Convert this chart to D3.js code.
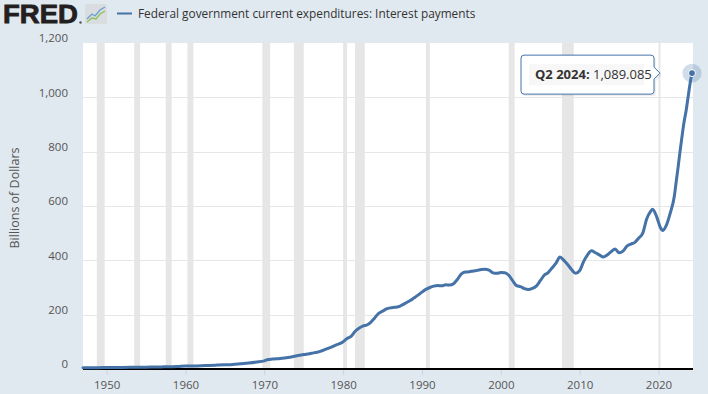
<!DOCTYPE html>
<html>
<head>
<meta charset="utf-8">
<script src="https://cdn.jsdelivr.net/npm/d3@7"></script>
<style>
  html, body { margin: 0; padding: 0; background: #e1e9f0; }
  svg { display: block; font-family: "Open Sans", "Noto Sans", sans-serif; }
</style>
</head>
<body>
<svg id="chart" width="708" height="394"></svg>
<script>
// ---- Data ----
const seriesTitle = "Federal government current expenditures: Interest payments";
const yAxisTitle = "Billions of Dollars";
const quarters = [
  "1947-Q1","1948-Q1","1949-Q1","1950-Q1","1951-Q1","1952-Q1","1953-Q1","1954-Q1","1955-Q1","1956-Q1",
  "1957-Q1","1958-Q1","1959-Q1","1960-Q1","1961-Q1","1962-Q1","1963-Q1","1964-Q1","1965-Q1","1966-Q1",
  "1967-Q1","1968-Q1","1969-Q1","1970-Q1","1970-Q3","1971-Q1","1972-Q1","1973-Q1","1974-Q1","1975-Q1",
  "1976-Q1","1977-Q1","1978-Q1","1979-Q1","1980-Q1","1980-Q3","1981-Q1","1981-Q3","1982-Q1","1982-Q3",
  "1983-Q1","1983-Q3","1984-Q1","1984-Q3","1985-Q1","1985-Q3","1986-Q1","1986-Q3","1987-Q1","1987-Q3",
  "1988-Q1","1988-Q3","1989-Q1","1989-Q3","1990-Q1","1990-Q3","1991-Q1","1991-Q3","1992-Q1","1992-Q3",
  "1993-Q1","1993-Q3","1994-Q1","1994-Q3","1995-Q1","1995-Q3","1996-Q1","1996-Q3","1997-Q1","1997-Q3",
  "1998-Q1","1998-Q3","1999-Q1","1999-Q3","2000-Q1","2000-Q3","2001-Q1","2001-Q3","2002-Q1","2002-Q3",
  "2003-Q1","2003-Q3","2004-Q1","2004-Q3","2005-Q1","2005-Q3","2006-Q1","2006-Q3","2007-Q1","2007-Q3",
  "2008-Q1","2008-Q3","2009-Q1","2009-Q3","2010-Q1","2010-Q3","2011-Q1","2011-Q3","2012-Q1","2012-Q3",
  "2013-Q1","2013-Q3","2014-Q1","2014-Q3","2015-Q1","2015-Q3","2016-Q1","2016-Q3","2017-Q1","2017-Q3",
  "2018-Q1","2018-Q3","2019-Q1","2019-Q2","2019-Q4","2020-Q2","2020-Q3","2021-Q1","2021-Q3","2022-Q1",
  "2022-Q2","2022-Q3","2022-Q4","2023-Q1","2023-Q2","2023-Q3","2023-Q4","2024-Q1","2024-Q2"
];
const values = [
  4.5, 4.8, 5.0, 5.3, 5.4, 5.7, 6.2, 6.4, 6.5, 7.2,
  7.8, 8.3, 9.0, 11.0, 11.2, 12.0, 13.2, 14.3, 15.5, 17.0,
  19.5, 22.0, 25.5, 30.0, 35.0, 36.5, 38.5, 42.0, 48.0, 53.0,
  58.0, 64.0, 75.0, 87.0, 100.0, 112.0, 120.0, 138.0, 150.0, 158.0,
  162.0, 172.0, 188.0, 205.0, 213.0, 221.0, 225.0, 227.0, 229.0, 236.0,
  244.0, 252.0, 262.0, 272.0, 283.0, 293.0, 300.0, 305.0, 307.0, 306.0,
  310.0, 309.0, 314.0, 330.0, 350.0, 357.0, 358.0, 361.0, 363.0, 366.0,
  367.0, 364.0, 354.0, 352.0, 355.0, 354.0, 345.0, 325.0, 307.0, 303.0,
  296.0, 293.0, 297.0, 305.0, 325.0, 345.0, 355.0, 372.0, 390.0, 412.0,
  400.0, 384.0, 365.0, 352.0, 362.0, 395.0, 420.0, 435.0, 428.0, 420.0,
  412.0, 420.0, 432.0, 442.0, 428.0, 434.0, 452.0, 460.0, 466.0, 482.0,
  500.0, 552.0, 580.0, 588.0, 562.0, 520.0, 510.0, 530.0, 575.0, 635.0,
  690.0, 745.0, 805.0, 860.0, 910.0, 950.0, 1000.0, 1050.0, 1089.085
];
const recessionStarts = ["1948-Q4","1953-Q3","1957-Q3","1960-Q2","1969-Q4","1973-Q4","1980-Q1","1981-Q3","1990-Q3","2001-Q1","2007-Q4","2020-Q1"];
const recessionEnds   = ["1949-Q4","1954-Q2","1958-Q2","1961-Q1","1970-Q4","1975-Q1","1980-Q3","1982-Q4","1991-Q1","2001-Q4","2009-Q2","2020-Q2"];
const yTicks = [0, 200, 400, 600, 800, 1000, 1200];
const xTickYears = [1950, 1960, 1970, 1980, 1990, 2000, 2010, 2020];
const tooltipLabel = "Q2 2024:";
const tooltipValue = "1,089.085";

// ---- Helpers ----
const parseQ = s => {
  const [y, q] = s.split("-Q");
  return new Date(+y, (+q - 1) * 3, 1);
};

const data = quarters.map((q, i) => ({ date: parseQ(q), value: values[i] }));

const svg = d3.select("#chart");
const plot = { left: 83, right: 692, top: 43, bottom: 369 };

const x = d3.scaleTime()
  .domain([parseQ(quarters[0]), parseQ(quarters[quarters.length - 1])])
  .range([plot.left, plot.right]);
const y = d3.scaleLinear().domain([0, 1200]).range([plot.bottom, plot.top]);

// Plot background
svg.append("rect")
  .attr("x", plot.left).attr("y", plot.top)
  .attr("width", plot.right - plot.left + 1).attr("height", plot.bottom - plot.top)
  .attr("fill", "#ffffff");

// Recession shading
svg.append("g").selectAll("rect")
  .data(recessionStarts.map((s, i) => ({ s: parseQ(s), e: parseQ(recessionEnds[i]) })))
  .join("rect")
  .attr("x", d => x(d.s))
  .attr("y", plot.top)
  .attr("width", d => Math.max(1, x(d.e) - x(d.s)))
  .attr("height", plot.bottom - plot.top)
  .attr("fill", "#e6e6e6");

// Horizontal gridlines
svg.append("g").selectAll("line")
  .data(yTicks.filter(v => v > 0 && v < 1200))
  .join("line")
  .attr("x1", plot.left).attr("x2", plot.right + 1)
  .attr("y1", d => Math.round(y(d)) + 0.5).attr("y2", d => Math.round(y(d)) + 0.5)
  .attr("stroke", "#e6e6e6").attr("stroke-width", 1);

// Y axis labels
const yAxis = d3.axisLeft(y).tickValues(yTicks).tickFormat(d3.format(",")).tickSize(0).tickPadding(0);
const yg = svg.append("g").attr("transform", `translate(${plot.left - 15},-5)`).call(yAxis);
yg.select(".domain").remove();
yg.selectAll("text")
  .attr("font-size", 11.5).attr("fill", "#555").attr("font-family", '"Open Sans", sans-serif');

// Y axis title
svg.append("text")
  .attr("transform", "translate(19,198) rotate(-90)")
  .attr("text-anchor", "middle")
  .attr("font-size", 12.5)
  .attr("fill", "#555")
  .text(yAxisTitle);

// X axis
const xAxis = d3.axisBottom(x)
  .tickValues(xTickYears.map(yr => new Date(yr, 0, 1)))
  .tickFormat(d3.timeFormat("%Y"))
  .tickSize(6).tickPadding(6);
const xg = svg.append("g").attr("transform", `translate(0,${plot.bottom})`).call(xAxis);
xg.select(".domain").remove();
xg.selectAll(".tick line").attr("stroke", "#c7d3e3");
xg.selectAll("text").attr("font-size", 11.5).attr("fill", "#555").attr("font-family", '"Open Sans", sans-serif');

// Bottom axis line
svg.append("line")
  .attr("x1", plot.left).attr("x2", plot.right + 1)
  .attr("y1", plot.bottom).attr("y2", plot.bottom)
  .attr("stroke", "#000").attr("stroke-width", 2.2);

// Data line
const line = d3.line()
  .x(d => x(d.date)).y(d => y(d.value))
  .curve(d3.curveMonotoneX);
svg.append("path")
  .datum(data)
  .attr("d", line)
  .attr("fill", "none")
  .attr("stroke", "#4572a7")
  .attr("stroke-width", 3)
  .attr("stroke-linejoin", "round")
  .attr("stroke-linecap", "round");

// Last point marker + halo
const last = data[data.length - 1];
const px = x(last.date), py = y(last.value);
svg.append("circle").attr("cx", px).attr("cy", py).attr("r", 9.5)
  .attr("fill", "#4572a7").attr("fill-opacity", 0.25);
svg.append("circle").attr("cx", px).attr("cy", py).attr("r", 3.5)
  .attr("fill", "#4572a7").attr("stroke", "#fff").attr("stroke-width", 1);

// Tooltip
const tb = { x: px - 171, y: py - 18, w: 133, h: 39 };
const r = 3;
const tipPath = `M${tb.x + r},${tb.y} H${tb.x + tb.w - r} Q${tb.x + tb.w},${tb.y} ${tb.x + tb.w},${tb.y + r}
  V${py - 6} L${tb.x + tb.w + 6},${py} L${tb.x + tb.w},${py + 6}
  V${tb.y + tb.h - r} Q${tb.x + tb.w},${tb.y + tb.h} ${tb.x + tb.w - r},${tb.y + tb.h}
  H${tb.x + r} Q${tb.x},${tb.y + tb.h} ${tb.x},${tb.y + tb.h - r} V${tb.y + r} Q${tb.x},${tb.y} ${tb.x + r},${tb.y} Z`;
svg.append("path").attr("d", tipPath)
  .attr("transform", "translate(2,2)")
  .attr("fill", "rgba(0,0,0,0.06)");
svg.append("path").attr("d", tipPath)
  .attr("fill", "#ffffff").attr("stroke", "#4572a7").attr("stroke-width", 1);
svg.append("rect").attr("x", tb.x + 8).attr("y", tb.y + 9).attr("width", tb.w - 18).attr("height", 21)
  .attr("fill", "#f7f7f7");
const tt = svg.append("text").attr("x", tb.x + 14).attr("y", tb.y + 24)
  .attr("font-size", 13).attr("fill", "#333");
tt.append("tspan").attr("font-weight", "bold").text(tooltipLabel);
tt.append("tspan").text(" " + tooltipValue);

// Header: FRED logo
svg.append("text").attr("x", 3).attr("y", 23)
  .attr("font-family", '"Liberation Sans", Arial, sans-serif')
  .attr("font-weight", "bold").attr("font-size", 25).attr("fill", "#231f20")
  .attr("textLength", 75).attr("lengthAdjust", "spacingAndGlyphs")
  .attr("stroke", "#231f20").attr("stroke-width", 0.8)
  .text("FRED");
svg.append("circle").attr("cx", 80.5).attr("cy", 22.5).attr("r", 1.2).attr("fill", "#555");
// logo icon
const ic = svg.append("g").attr("transform", "translate(85,4)");
ic.append("rect").attr("width", 22).attr("height", 20).attr("rx", 2).attr("fill", "#d9dde0");
ic.append("path").attr("d", "M2,15 L7,10 L10,12 L15,6 L20,3")
  .attr("fill", "none").attr("stroke", "#6a9ccf").attr("stroke-width", 1.3);
ic.append("path").attr("d", "M2,18 L7,14 L11,15 L15,10 L20,7")
  .attr("fill", "none").attr("stroke", "#8fbf5a").attr("stroke-width", 1.3);

// Legend
svg.append("line").attr("x1", 117).attr("x2", 132).attr("y1", 13.5).attr("y2", 13.5)
  .attr("stroke", "#4572a7").attr("stroke-width", 2);
const leg = svg.append("text").attr("x", 138).attr("y", 18)
  .attr("font-size", 12.5).attr("fill", "#333")
  .text(seriesTitle);
const lw = leg.node().getComputedTextLength();
if (lw > 0) leg.attr("font-size", 12.5 * 338 / lw);
</script>
</body>
</html>
